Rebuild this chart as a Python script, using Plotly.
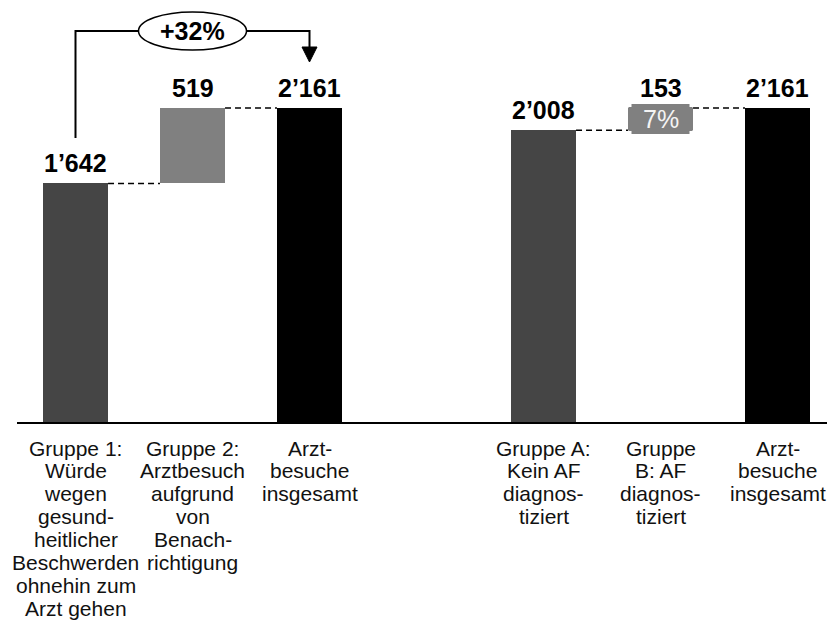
import plotly.graph_objects as go

FONT = "Arial, 'Liberation Sans', Helvetica, sans-serif"

# ---- data -------------------------------------------------------------
positions = [0, 1, 2, 4, 5, 6]
values = [1642, 519, 2161, 2008, 153, 2161]
kinds = ["absolute", "relative", "total", "absolute", "relative", "total"]
colors = ["#454545", "#808080", "#000000", "#454545", "#808080", "#000000"]
category_lines = [
    ["Gruppe 1:", "Würde", "wegen", "gesund-", "heitlicher", "Beschwerden", "ohnehin zum", "Arzt gehen"],
    ["Gruppe 2:", "Arztbesuch", "aufgrund", "von", "Benach-", "richtigung"],
    ["Arzt-", "besuche", "insgesamt"],
    ["Gruppe A:", "Kein AF", "diagnos-", "tiziert"],
    ["Gruppe", "B: AF", "diagnos-", "tiziert"],
    ["Arzt-", "besuche", "insgesamt"],
]

# ---- layout constants ---------------------------------------------------
W, H = 827, 633
M_L, M_R, M_T, M_B = 17, 0, 0, 211
PLOT_W = W - M_L - M_R
PLOT_H = H - M_T - M_B
X_RANGE = [-0.5, -0.5 + PLOT_W / 117.0]
Y_RANGE = [0, 2904]
BAR_W = 0.556
PX_X = (X_RANGE[1] - X_RANGE[0]) / PLOT_W      # data units per pixel (x)
PX_Y = (Y_RANGE[1] - Y_RANGE[0]) / PLOT_H      # data units per pixel (y)


def fmt(v):
    return f"{v:,}".replace(",", "\u2019")


def py(px):
    """paper y for a pixel offset from the top of the plot area"""
    return 1 - px / PLOT_H


# bases / tops of the floating bars
bases, tops = [], []
for v, k in zip(values, kinds):
    b = tops[-1] if k == "relative" else 0
    bases.append(b)
    tops.append(b + v)

fig = go.Figure()
fig.add_trace(go.Bar(
    x=positions, y=values, base=bases, width=BAR_W,
    marker=dict(color=colors, line=dict(width=0)),
    hoverinfo="skip", showlegend=False,
))

annotations = []
shapes = []

# value labels above each bar
for x, v, t in zip(positions, values, tops):
    annotations.append(dict(
        x=x, y=t, xref="x", yref="y", text=f"<b>{fmt(v)}</b>",
        showarrow=False, yanchor="bottom", yshift=4,
        font=dict(family=FONT, size=25, color="#000000"),
    ))

# dashed connectors between neighbouring bars
for i in range(len(positions) - 1):
    if positions[i + 1] - positions[i] != 1:
        continue
    shapes.append(dict(
        type="line", xref="x", yref="y",
        x0=positions[i] + BAR_W / 2, x1=positions[i + 1] - BAR_W / 2,
        y0=tops[i], y1=tops[i],
        line=dict(color="#000000", width=1.5, dash="6px,4px"),
    ))

# category labels, one line at a time
LINE_0, LINE_STEP = 26, 22.9
for x, lines in zip(positions, category_lines):
    for j, line in enumerate(lines):
        annotations.append(dict(
            x=x, y=0, xref="x", yref="paper", text=line,
            showarrow=False, yanchor="middle",
            yshift=-(LINE_0 + j * LINE_STEP),
            font=dict(family=FONT, size=21, color="#111111"),
        ))

# share of group B within the total, on a notched grey tag
share = values[4] / tops[5] * 100
cx, cy = positions[4], (bases[4] + tops[4]) / 2
hw, hh, n = 32 * PX_X, 15 * PX_Y, 3
nx, ny = n * PX_X, n * PX_Y
tag = [
    (cx - hw + nx, cy + hh), (cx + hw - nx, cy + hh), (cx + hw - nx, cy + hh - ny),
    (cx + hw, cy + hh - ny), (cx + hw, cy - hh + ny), (cx + hw - nx, cy - hh + ny),
    (cx + hw - nx, cy - hh), (cx - hw + nx, cy - hh), (cx - hw + nx, cy - hh + ny),
    (cx - hw, cy - hh + ny), (cx - hw, cy + hh - ny), (cx - hw + nx, cy + hh - ny),
]
shapes.append(dict(
    type="path", xref="x", yref="y", layer="above",
    path="M " + " L ".join(f"{a},{b}" for a, b in tag) + " Z",
    fillcolor="#808080", line=dict(width=0),
))
annotations.append(dict(
    x=cx, y=cy, xref="x", yref="y",
    text=f"{share:.0f}%", showarrow=False, xanchor="center", yanchor="middle",
    font=dict(family=FONT, size=25, color="#f4f4f4"),
))

# growth bracket from group 1 to the total
growth = values[1] / values[0] * 100
x_from, x_mid, x_to = positions[0], positions[1], positions[2]
TOP_PX, START_PX, TIP_PX, HEAD_PX = 31, 138, 62, 47
RX_PX, RY_PX = 54, 19
head_half = 7.5 * PX_X
rx = RX_PX * PX_X
shapes.append(dict(
    type="path", xref="x", yref="paper",
    path=f"M {x_from},{py(START_PX)} L {x_from},{py(TOP_PX)} L {x_mid - rx},{py(TOP_PX)}",
    line=dict(color="#000000", width=2),
))
shapes.append(dict(
    type="path", xref="x", yref="paper",
    path=f"M {x_mid + rx},{py(TOP_PX)} L {x_to},{py(TOP_PX)} L {x_to},{py(HEAD_PX)}",
    line=dict(color="#000000", width=2),
))
shapes.append(dict(
    type="path", xref="x", yref="paper",
    path=(f"M {x_to - head_half},{py(HEAD_PX)} L {x_to + head_half},{py(HEAD_PX)} "
          f"L {x_to},{py(TIP_PX)} Z"),
    fillcolor="#000000", line=dict(color="#000000", width=1),
))
shapes.append(dict(
    type="circle", xref="x", yref="paper",
    x0=x_mid - rx, x1=x_mid + rx,
    y0=py(TOP_PX + RY_PX), y1=py(TOP_PX - RY_PX),
    fillcolor="#ffffff", line=dict(color="#000000", width=1.5),
))
annotations.append(dict(
    x=x_mid, y=py(TOP_PX), xref="x", yref="paper",
    text=f"<b>+{growth:.0f}%</b>", showarrow=False, yanchor="middle",
    font=dict(family=FONT, size=25, color="#000000"),
))

fig.update_layout(
    width=W, height=H,
    margin=dict(l=M_L, r=M_R, t=M_T, b=M_B, pad=0),
    paper_bgcolor="#ffffff", plot_bgcolor="#ffffff",
    bargap=0,
    xaxis=dict(range=X_RANGE, showgrid=False, zeroline=False, showticklabels=False,
               ticks="", showline=True, linecolor="#000000", linewidth=2, fixedrange=True),
    yaxis=dict(range=Y_RANGE, showgrid=False, zeroline=False, showticklabels=False,
               ticks="", showline=False, fixedrange=True),
    shapes=shapes,
    annotations=annotations,
)

fig.write_html("out.html", config={"displayModeBar": False})
